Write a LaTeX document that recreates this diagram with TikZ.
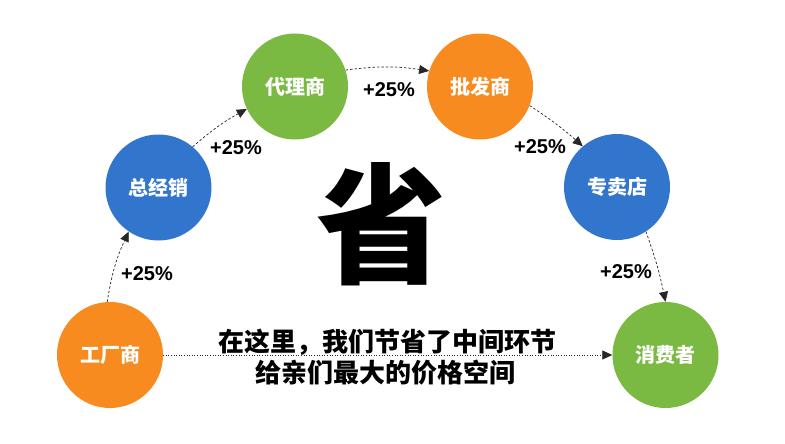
\documentclass[tikz,border=0pt]{standalone}
\usepackage{fontspec}
\setmainfont{Liberation Sans}
\newfontfamily\cjk{Noto Sans CJK SC}
\usetikzlibrary{arrows.meta}
\definecolor{corange}{RGB}{247,139,31}
\definecolor{cblue}{RGB}{50,117,204}
\definecolor{cgreen}{RGB}{122,186,66}
\tikzset{
  ball/.style={circle,minimum size=106pt,inner sep=0pt,text=white,font=\cjk\bfseries\fontsize{20}{24}\selectfont},
  arr/.style={draw=black!85,dash pattern=on 2.5pt off 2pt,line width=0.7pt,-{Triangle[length=10pt,width=9pt]}},
  dotarr/.style={draw=black!85,dash pattern=on 1pt off 1.6pt,line width=0.8pt,-{Triangle[length=10pt,width=9pt]}},
  pct/.style={font=\bfseries\fontsize{20}{24}\selectfont,inner sep=0pt},
  midtext/.style={font=\cjk\bfseries\fontsize{26}{32}\selectfont,inner sep=0pt}
}
\begin{document}
\begin{tikzpicture}[x=1pt,y=-1pt]
\useasboundingbox[fill=white] (0,0) rectangle (785,444);
\node[ball,fill=corange] (f) at (110,355) {工厂商};
\node[ball,fill=cblue] (z) at (158.5,187.5) {总经销};
\node[ball,fill=cgreen] (d) at (295,86.5) {代理商};
\node[ball,fill=corange] (p) at (480,86.5) {批发商};
\node[ball,fill=cblue] (s) at (617,187) {专卖店};
\node[ball,fill=cgreen] (c) at (665.5,355) {消费者};
\draw[arr] (f.93) to[bend left=8] (z.236);
\draw[arr] (z.50) to[bend left=6] (d.205);
\draw[arr] (d.18) to[bend left=8] (p.163);
\draw[arr] (p.339) to[bend left=4] (s.130);
\draw[arr] (s.303) to[bend left=4] (c.90);
\draw[dotarr] (f.east) -- (c.west);
\node[pct] (l1) at (147,274) {+25\%};
\node[pct] (l2) at (236,148) {+25\%};
\node[pct] (l3) at (389,90) {+25\%};
\node[pct] (l4) at (540,147) {+25\%};
\node[pct] (l5) at (626,272) {+25\%};
\node[font=\cjk\bfseries\fontsize{130}{130}\selectfont,inner sep=0pt] (big) at (381,224) {省};
\node[midtext] (t1) at (387,342) {在这里，我们节省了中间环节};
\node[midtext] (t2) at (385,373) {给亲们最大的价格空间};
\end{tikzpicture}
\end{document}
